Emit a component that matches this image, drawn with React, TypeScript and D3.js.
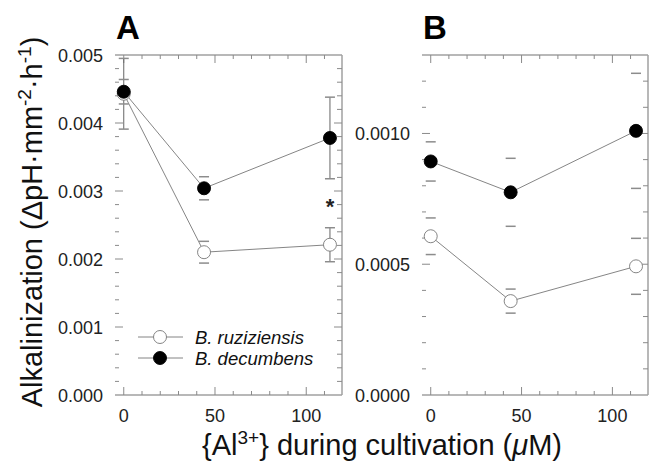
import { useEffect, useRef } from "react";
import * as d3 from "d3";

// Al3+ concentrations (µM) used during cultivation
const conc = [0, 44, 113];

// panel A
const ruzA = [0.00443, 0.0021, 0.00221];
const ruzAErr = [0.00052, 0.00016, 0.00025];
const decA = [0.00446, 0.00304, 0.00378];
const decAErr = [0.00018, 0.00017, 0.0006];
const asteriskA = { x: 113, y: 0.0028 };

// panel B
const ruzB = [0.000607, 0.000359, 0.000492];
const ruzBErr = [0.00007, 0.000046, 0.000107];
const decB = [0.000893, 0.000775, 0.00101];
const decBErr = [0.000075, 0.00013, 0.00022];

const xTicks = [0, 50, 100];
const xMinor = [0, 10, 20, 30, 40, 50, 60, 70, 80, 90, 100, 110];
const yTicksA = [0, 0.001, 0.002, 0.003, 0.004, 0.005];
const yTicksB = [0, 0.0005, 0.001];

const W = 649;
const H = 467;
const top = 55;
const bottom = 395;
const font = "Liberation Sans, Arial, sans-serif";

function drawPanel(svg, opt) {
  const { left, right, yMax, yTicks, yMinorStep, fmt, ruz, ruzErr, dec, decErr, letter, stems } = opt;
  const x = d3.scaleLinear([-4.8, 119.6], [left, right]);
  const y = d3.scaleLinear([0, yMax], [bottom, top]);
  const g = svg.append("g");
  const axisCol = "#8a8a8a";

  // spines (no left spine in the original)
  g.append("line").attr("x1", left).attr("x2", right).attr("y1", top).attr("y2", top)
    .attr("stroke", "#a0a0a0").attr("stroke-width", 1.6);
  g.append("line").attr("x1", left).attr("x2", right).attr("y1", bottom).attr("y2", bottom)
    .attr("stroke", "#a0a0a0").attr("stroke-width", 1.5);
  g.append("line").attr("x1", right).attr("x2", right).attr("y1", top).attr("y2", bottom)
    .attr("stroke", "#a0a0a0").attr("stroke-width", 1.5);

  // x ticks top & bottom
  xMinor.forEach(v => {
    const len = xTicks.includes(v) ? 8 : 4;
    g.append("line").attr("x1", x(v)).attr("x2", x(v)).attr("y1", bottom).attr("y2", bottom - len)
      .attr("stroke", axisCol);
    g.append("line").attr("x1", x(v)).attr("x2", x(v)).attr("y1", top).attr("y2", top + len)
      .attr("stroke", axisCol);
  });
  g.selectAll(".xl").data(xTicks).join("text")
    .attr("x", d => x(d)).attr("y", 422)
    .attr("text-anchor", "middle").attr("font-family", font).attr("font-size", 18)
    .attr("fill", "#222").text(d => d);

  // y ticks left & right
  const minor = d3.range(0, yMax + 1e-9, yMinorStep);
  minor.forEach(v => {
    const major = yTicks.some(t => Math.abs(t - v) < 1e-9);
    const lenL = major ? 8 : 4;
    const lenR = major ? 8 : 5;
    if (v > 0 && v < yMax - 1e-9) {
      g.append("line").attr("x1", left).attr("x2", left + lenL).attr("y1", y(v)).attr("y2", y(v))
        .attr("stroke", axisCol);
      g.append("line").attr("x1", right).attr("x2", right - lenR).attr("y1", y(v)).attr("y2", y(v))
        .attr("stroke", axisCol);
    }
  });
  g.selectAll(".yl").data(yTicks).join("text")
    .attr("x", left - 12).attr("y", d => y(d) + 6.5)
    .attr("text-anchor", "end").attr("font-family", font).attr("font-size", 18)
    .attr("fill", "#222").text(d => fmt(d));

  // panel letter
  g.append("text").attr("x", left + 1).attr("y", 39).attr("font-family", font)
    .attr("font-size", 33).attr("font-weight", "bold").attr("fill", "#000").text(letter);

  const series = [
    { vals: ruz, err: ruzErr, fill: "#fff", stroke: "#777" },
    { vals: dec, err: decErr, fill: "#000", stroke: "#000" },
  ];
  const line = d3.line().x((d, i) => x(conc[i])).y(d => y(d));

  series.forEach(s => {
    // error bars: the stems only show in panel A, and only on the long ones
    s.vals.forEach((v, i) => {
      const cx = x(conc[i]);
      if (stems && s.err[i] > 0.0002) {
        const y1 = y(Math.min(yMax, v + s.err[i]));
        const y2 = y(v - s.err[i]);
        g.append("line").attr("x1", cx).attr("x2", cx).attr("y1", y1).attr("y2", y2)
          .attr("stroke", "#666").attr("stroke-width", 1);
      }
      [v + s.err[i], v - s.err[i]].forEach(e => {
        if (e <= yMax) {
          g.append("line").attr("x1", cx - 5).attr("x2", cx + 5).attr("y1", y(e)).attr("y2", y(e))
            .attr("stroke", "#8c8c8c").attr("stroke-width", 1.5);
        }
      });
    });
    g.append("path").datum(s.vals).attr("d", line).attr("fill", "none")
      .attr("stroke", "#777").attr("stroke-width", 0.9);
  });
  series.forEach(s => {
    g.selectAll(null).data(s.vals).join("circle")
      .attr("cx", (d, i) => x(conc[i])).attr("cy", d => y(d)).attr("r", 6.5)
      .attr("fill", s.fill).attr("stroke", s.stroke).attr("stroke-width", 0.9);
  });
  return { x, y, g };
}

function Chart() {
  const ref = useRef(null);
  useEffect(() => {
    const svg = d3.select(ref.current);
    svg.selectAll("*").remove();

    const a = drawPanel(svg, {
      left: 115, right: 342, yMax: 0.005, yTicks: yTicksA, yMinorStep: 0.0002,
      fmt: d3.format(".3f"), ruz: ruzA, ruzErr: ruzAErr, dec: decA, decErr: decAErr, letter: "A", stems: true,
    });
    drawPanel(svg, {
      left: 422, right: 648, yMax: 0.0013, yTicks: yTicksB, yMinorStep: 0.0001,
      fmt: d3.format(".4f"), ruz: ruzB, ruzErr: ruzBErr, dec: decB, decErr: decBErr, letter: "B", stems: false,
    });

    // significance mark
    a.g.append("text").attr("x", a.x(asteriskA.x)).attr("y", a.y(asteriskA.y) + 9)
      .attr("text-anchor", "middle").attr("font-family", font).attr("font-size", 22)
      .attr("font-weight", "bold").attr("fill", "#222").text("*");

    // legend
    const legend = svg.append("g");
    [["B. ruziziensis", "#fff", "#777"], ["B. decumbens", "#000", "#000"]].forEach(([name, fill, stroke], i) => {
      const ly = 337 + i * 21;
      legend.append("line").attr("x1", 138).attr("x2", 183).attr("y1", ly).attr("y2", ly)
        .attr("stroke", "#777").attr("stroke-width", 0.9);
      legend.append("circle").attr("cx", 160).attr("cy", ly).attr("r", 6.5)
        .attr("fill", fill).attr("stroke", stroke).attr("stroke-width", 0.9);
      legend.append("text").attr("x", 195).attr("y", ly + 6.5).attr("font-family", font)
        .attr("font-size", 18.5).attr("font-style", "italic").attr("fill", "#111").text(name);
    });

    // y title
    const yt = svg.append("text").attr("transform", "translate(42,222) rotate(-90)")
      .attr("text-anchor", "middle").attr("font-family", font).attr("font-size", 29).attr("fill", "#111");
    yt.append("tspan").text("Alkalinization (ΔpH·mm");
    yt.append("tspan").attr("dy", -11).attr("font-size", 19).text("-2");
    yt.append("tspan").attr("dy", 11).text("·h");
    yt.append("tspan").attr("dy", -11).attr("font-size", 19).text("-1");
    yt.append("tspan").attr("dy", 11).text(")");

    // x title
    const xt = svg.append("text").attr("x", 382).attr("y", 455)
      .attr("text-anchor", "middle").attr("font-family", font).attr("font-size", 29).attr("fill", "#111");
    xt.append("tspan").text("{Al");
    xt.append("tspan").attr("dy", -11).attr("font-size", 19).text("3+");
    xt.append("tspan").attr("dy", 11).text("} during cultivation (");
    xt.append("tspan").attr("font-style", "italic").text("μ");
    xt.append("tspan").text("M)");
  }, []);

  return (
    <svg ref={ref} width={W} height={H} style={{ position: "absolute", left: 0, top: 0, background: "#fff" }} />
  );
}

export default function App() {
  return <Chart />;
}
